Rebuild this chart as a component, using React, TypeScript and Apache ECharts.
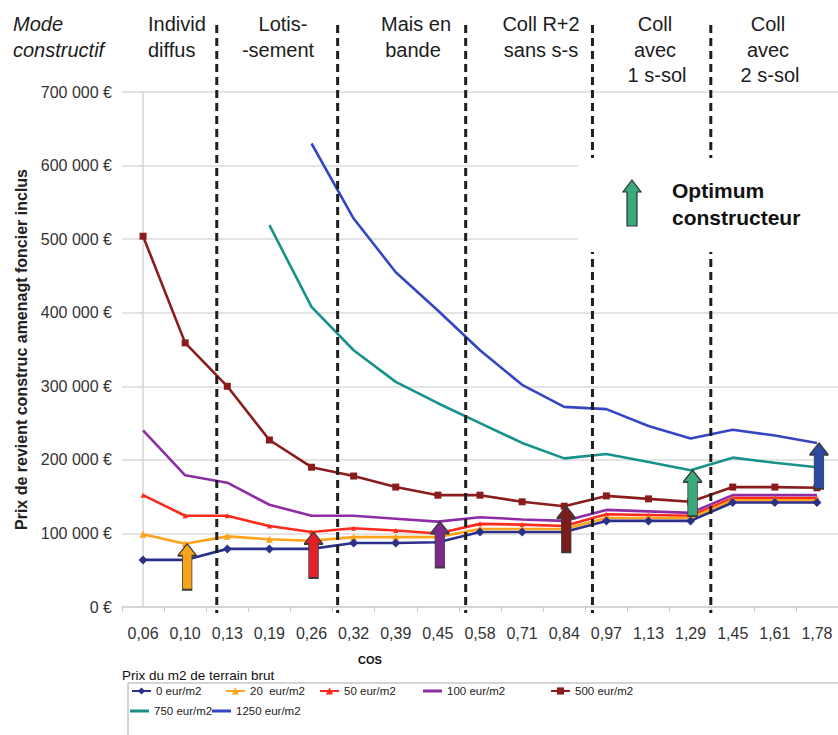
import React, { useEffect, useRef } from "react";
import * as echarts from "echarts";

const categories = ["0,06", "0,10", "0,13", "0,19", "0,26", "0,32", "0,39", "0,45", "0,58", "0,71", "0,84", "0,97", "1,13", "1,29", "1,45", "1,61", "1,78"];

const seriesNames = ["0 eur/m2", "20  eur/m2", "50 eur/m2", "100 eur/m2", "500 eur/m2", "750 eur/m2", "1250 eur/m2"];

const eur0 = [64000, 64000, 79000, 79000, 79000, 87000, 87000, 88000, 102000, 102000, 102000, 117000, 117000, 117000, 142000, 142000, 142000];
const eur20 = [99000, 86000, 96000, 92000, 90000, 95000, 95000, 95000, 106000, 106000, 106000, 121000, 121000, 121000, 145000, 145000, 145000];
const eur50 = [152000, 124000, 124000, 110000, 102000, 107000, 104000, 100000, 113000, 112000, 110000, 126000, 125000, 124000, 148000, 148000, 148000];
const eur100 = [240000, 179000, 169000, 139000, 124000, 124000, 120000, 116000, 122000, 119000, 117000, 132000, 130000, 128000, 152000, 152000, 152000];
const eur500 = [504000, 359000, 300000, 227000, 190000, 178000, 163000, 152000, 152000, 143000, 137000, 151000, 147000, 143000, 163000, 163000, 162000];
const eur750 = [null, null, null, 519000, 408000, 349000, 306000, 277000, 250000, 223000, 202000, 208000, 197000, 186000, 203000, 196000, 190000];
const eur1250 = [null, null, null, null, 630000, 528000, 455000, 403000, 349000, 302000, 272000, 269000, 246000, 229000, 241000, 233000, 223000];

const allSeries = [eur0, eur20, eur50, eur100, eur500, eur750, eur1250];

// optimum arrows: series index and category index
const arrowSeries = [1, 2, 3, 4, 5, 6];
const arrowIdx = [1, 4, 7, 10, 13, 16];
const arrowColors = ["#f5a41c", "#e3202a", "#7b2a8c", "#7a1c1c", "#3aa97c", "#2b4ba3"];

// separators between construction modes (in category units)
const sepPositions = [1.75, 4.62, 7.66, 10.67, 13.48];

const headers = [
  { lines: ["Mode", "constructif"], x: 13, align: "left", italic: true },
  { lines: ["Individ", "diffus"], x: 148, align: "left" },
  { lines: ["Lotis-", "-sement"], xs: [283, 278], align: "center" },
  { lines: ["Mais en", "bande"], xs: [416, 413], align: "center" },
  { lines: ["Coll R+2", "sans s-s"], xs: [541, 541], align: "center" },
  { lines: ["Coll", "avec", "1 s-sol"], xs: [655, 655, 657], align: "center" },
  { lines: ["Coll", "avec", "2 s-sol"], xs: [768, 768, 770], align: "center" },
];

const colors = ["#2b3088", "#ffa31a", "#ff2a1e", "#8e2ca4", "#8b1c1c", "#17928a", "#3546c2"];
const symbols = ["diamond", "triangle", "triangle", "none", "rect", "none", "none"];
const symbolSizes = [9, 7, 5, 0, 7, 0, 0];

const FONT = "'Liberation Sans', Arial, sans-serif";
const ARROW_PATH = "path://M10,0 L20,12 L15,12 L15,46 L5,46 L5,12 L0,12 Z";

const legendLeft = [131, 225, 319, 423, 550, 130, 212];
const legendTop = [685, 685, 685, 685, 685, 705, 705];

export default function App() {
  const ref = useRef<HTMLDivElement>(null);
  useEffect(() => {
    if (!ref.current) return;
    const chart = echarts.init(ref.current, null, { renderer: "svg" });

    const graphic: any[] = [];
    const lineY = [24, 50, 75];
    headers.forEach((h, hi) => {
      h.lines.forEach((t, li) => {
        const x = (h as any).xs ? (h as any).xs[li] : h.x;
        graphic.push({
          type: "text",
          id: `h${hi}_${li}`,
          x,
          y: lineY[li],
          z: 12,
          style: {
            text: t,
            font: `${h.italic ? "italic " : ""}20px ${FONT}`,
            fill: "#1c1c1c",
            align: h.align,
            textAlign: h.align,
            verticalAlign: "middle",
            textVerticalAlign: "middle",
          },
        });
      });
    });
    // optimum box
    graphic.push({
      type: "rect",
      id: "optBox",
      z: 10,
      shape: { x: 578, y: 158, width: 262, height: 94 },
      style: { fill: "#ffffff", stroke: null },
    });
    graphic.push({
      type: "polygon",
      id: "optArrow",
      z: 11,
      shape: {
        points: [
          [632, 180],
          [641, 192],
          [637, 192],
          [637, 226],
          [627, 226],
          [627, 192],
          [623, 192],
        ],
      },
      style: { fill: "#3aa97c", stroke: "#333", lineWidth: 1.2 },
    });
    graphic.push({
      type: "text",
      id: "opt1",
      x: 672,
      y: 190,
      z: 11,
      style: { text: "Optimum", font: `bold 21px ${FONT}`, fill: "#111", align: "left", textAlign: "left", verticalAlign: "middle", textVerticalAlign: "middle" },
    });
    graphic.push({
      type: "text",
      id: "opt2",
      x: 672,
      y: 217,
      z: 11,
      style: { text: "constructeur", font: `bold 21px ${FONT}`, fill: "#111", align: "left", textAlign: "left", verticalAlign: "middle", textVerticalAlign: "middle" },
    });
    graphic.push({
      type: "text",
      id: "cos",
      x: 370,
      y: 660,
      style: { text: "COS", font: `bold 11px ${FONT}`, fill: "#111", align: "center", textAlign: "center", verticalAlign: "middle", textVerticalAlign: "middle" },
    });
    graphic.push({
      type: "text",
      id: "prixm2",
      x: 122,
      y: 675,
      style: { text: "Prix du m2 de terrain brut", font: `13.5px ${FONT}`, fill: "#111", align: "left", textAlign: "left", verticalAlign: "middle", textVerticalAlign: "middle" },
    });
    graphic.push({
      type: "rect",
      id: "legBox",
      shape: { x: 128, y: 683, width: 740, height: 70 },
      style: { fill: "none", stroke: "#aaaaaa", lineWidth: 1 },
    });

    const lineSeries = seriesNames.map((name, i) => ({
      name,
      type: "line",
      data: allSeries[i],
      symbol: symbols[i],
      symbolSize: symbolSizes[i],
      showSymbol: symbols[i] !== "none",
      connectNulls: false,
      lineStyle: { width: 2.6, color: colors[i] },
      itemStyle: { color: colors[i] },
      z: 2 + (6 - i) * 0.01,
    }));

    const arrowData = arrowSeries.map((s, k) => ({
      value: [arrowIdx[k], allSeries[s][arrowIdx[k]]],
      itemStyle: { color: arrowColors[k] },
    }));

    const legends = seriesNames.map((name, i) => {
      const plain = symbols[i] === "none";
      return {
        data: [plain ? { name, icon: "rect" } : name],
        left: legendLeft[i],
        top: legendTop[i],
        itemWidth: 19,
        itemHeight: plain ? 3 : 9,
        padding: 0,
        textStyle: { fontSize: 11.5, fontFamily: FONT, color: "#222" },
      };
    });

    chart.setOption({
      animation: false,
      backgroundColor: "#ffffff",
      grid: { left: 122, top: 92, right: -5, bottom: 128, containLabel: false },
      xAxis: [
        {
          type: "category",
          data: categories,
          boundaryGap: true,
          axisLine: { lineStyle: { color: "#cfcfcf", width: 1.5 } },
          axisTick: { show: true, length: 5, lineStyle: { color: "#cfcfcf" } },
          axisLabel: { fontSize: 16, fontFamily: FONT, color: "#333", margin: 18, interval: 0 },
          splitLine: { show: false },
        },
        { type: "value", min: -0.5, max: 16.5, show: false },
      ],
      yAxis: {
        type: "value",
        min: 0,
        max: 700000,
        interval: 100000,
        name: "Prix de revient construc amenagt foncier inclus",
        nameLocation: "middle",
        nameGap: 92,
        nameTextStyle: { fontSize: 16, fontWeight: "bold", fontFamily: FONT, color: "#222" },
        axisLine: { show: true, lineStyle: { color: "#d6d6d6", width: 1.5 } },
        axisTick: { show: true, length: 3, lineStyle: { color: "#d6d6d6" } },
        axisLabel: {
          fontSize: 16,
          fontFamily: FONT,
          color: "#333",
          margin: 10,
          formatter: (v: number) => (v === 0 ? "0 €" : `${v / 1000} 000 €`),
        },
        splitLine: { lineStyle: { color: "#e4e4e4", width: 2 } },
      },
      legend: legends,
      series: [
        ...lineSeries,
        {
          name: "optimum",
          type: "scatter",
          data: arrowData,
          symbol: ARROW_PATH,
          symbolSize: [19, 46],
          symbolKeepAspect: false,
          symbolOffset: [2, 23],
          itemStyle: { borderColor: "#3a3a3a", borderWidth: 1.2, opacity: 1 },
          z: 6,
          silent: true,
        },
      ],
      graphic,
    });

    const sepGraphics = sepPositions.map((v, i) => {
      const px = chart.convertToPixel({ xAxisIndex: 1 }, v) as number;
      return {
        type: "line",
        id: `sep${i}`,
        z: 5,
        shape: { x1: px, y1: 25, x2: px, y2: 613 },
        style: { stroke: "#1e1e1e", lineWidth: 3, lineDash: [8, 5] },
      };
    });
    chart.setOption({ graphic: sepGraphics });

    return () => chart.dispose();
  }, []);
  return <div ref={ref} style={{ position: "fixed", left: 0, top: 0, width: 838, height: 735 }} />;
}
